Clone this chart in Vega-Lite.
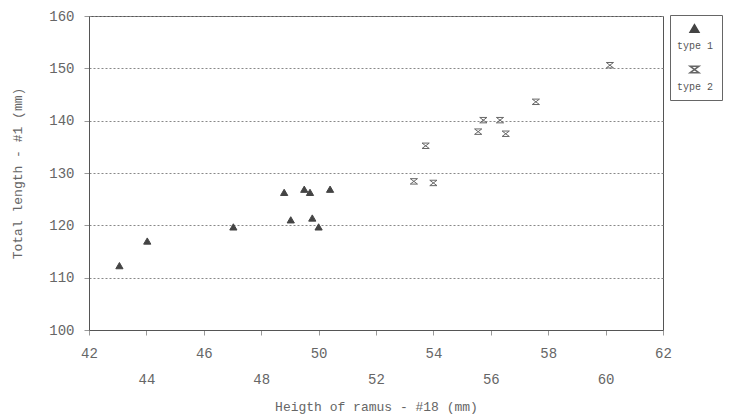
{
  "$schema": "https://vega.github.io/schema/vega-lite/v6.json",
  "width": 574,
  "height": 314,
  "autosize": {"type": "none"},
  "padding": {"left": 89, "top": 16, "right": 67, "bottom": 86},
  "background": "white",
  "config": {
    "font": "Liberation Mono",
    "view": {"stroke": "#555", "strokeWidth": 1}
  },
  "data": {
    "values": [
      {"ramus": 43.06, "length": 112.3, "type": "type 1"},
      {"ramus": 44.03, "length": 117.0, "type": "type 1"},
      {"ramus": 47.03, "length": 119.7, "type": "type 1"},
      {"ramus": 48.8, "length": 126.3, "type": "type 1"},
      {"ramus": 49.03, "length": 121.05, "type": "type 1"},
      {"ramus": 49.5, "length": 126.9, "type": "type 1"},
      {"ramus": 49.7, "length": 126.3, "type": "type 1"},
      {"ramus": 49.78, "length": 121.4, "type": "type 1"},
      {"ramus": 50.0, "length": 119.7, "type": "type 1"},
      {"ramus": 50.4, "length": 126.9, "type": "type 1"},
      {"ramus": 60.15, "length": 150.6, "type": "type 2"},
      {"ramus": 57.57, "length": 143.6, "type": "type 2"},
      {"ramus": 55.74, "length": 140.1, "type": "type 2"},
      {"ramus": 56.32, "length": 140.1, "type": "type 2"},
      {"ramus": 55.56, "length": 137.9, "type": "type 2"},
      {"ramus": 56.52, "length": 137.5, "type": "type 2"},
      {"ramus": 53.73, "length": 135.2, "type": "type 2"},
      {"ramus": 53.32, "length": 128.4, "type": "type 2"},
      {"ramus": 54.0, "length": 128.1, "type": "type 2"}
    ]
  },
  "mark": {"type": "point", "size": 52, "strokeWidth": 1, "opacity": 1},
  "encoding": {
    "x": {
      "field": "ramus", "type": "quantitative",
      "scale": {"domain": [42, 62], "nice": false, "zero": false},
      "axis": {
        "title": "Heigth of ramus - #18 (mm)",
        "values": [42, 44, 46, 48, 50, 52, 54, 56, 58, 60, 62],
        "grid": false,
        "domainColor": "#555",
        "tickColor": "#999",
        "tickSize": 5,
        "labelFontSize": 14,
        "labelColor": "#666",
        "labelPadding": 11,
        "labelLineHeight": 26,
        "labelOverlap": false,
        "labelFlush": false,
        "labelExpr": "datum.value % 4 === 0 ? ['', datum.label] : datum.label",
        "titleFontSize": 13,
        "titleFontWeight": "normal",
        "titleColor": "#666",
        "titlePadding": 14
      }
    },
    "y": {
      "field": "length", "type": "quantitative",
      "scale": {"domain": [100, 160], "nice": false, "zero": false},
      "axis": {
        "title": "Total length - #1 (mm)",
        "values": [100, 110, 120, 130, 140, 150, 160],
        "grid": true,
        "gridDash": [2, 2],
        "gridColor": "#888",
        "domainColor": "#555",
        "tickColor": "#999",
        "tickSize": 5,
        "labelFontSize": 14,
        "labelColor": "#666",
        "labelPadding": 10,
        "titleFontSize": 13,
        "titleFontWeight": "normal",
        "titleColor": "#666",
        "titlePadding": 24
      }
    },
    "shape": {
      "field": "type", "type": "nominal",
      "scale": {"domain": ["type 1", "type 2"], "range": ["triangle-up", "M-1,-0.75L1,-0.75L-1,0.75L1,0.75Z"]},
      "legend": {
        "title": null,
        "orient": "none",
        "legendX": 581,
        "legendY": -1,
        "strokeColor": "#666",
        "fillColor": "white",
        "padding": 8,
        "symbolSize": 80,
        "labelFont": "Liberation Mono",
        "labelFontSize": 10,
        "labelColor": "#555",
        "labelBaseline": "top",
        "labelAlign": "center",
        "labelOffset": -5,
        "labelExpr": "['', datum.label]",
        "labelLineHeight": 11,
        "rowPadding": 12,
        "symbolOffset": 11
      }
    },
    "fill": {
      "field": "type", "type": "nominal",
      "scale": {"domain": ["type 1", "type 2"], "range": ["#444", "transparent"]},
      "legend": null
    },
    "stroke": {
      "field": "type", "type": "nominal",
      "scale": {"domain": ["type 1", "type 2"], "range": ["#444", "#666"]},
      "legend": null
    }
  }
}
